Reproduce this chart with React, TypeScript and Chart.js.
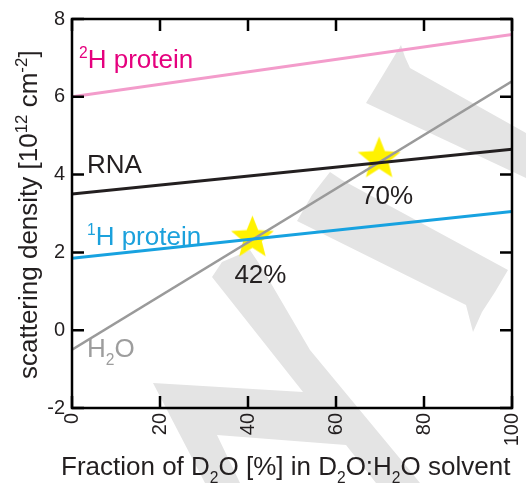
import React, { useEffect, useRef } from "react";
import { Chart, registerables } from "chart.js";

Chart.register(...registerables);

// ---- data ----
const xTicks = [0, 20, 40, 60, 80, 100];
const yTicks = [-2, 0, 2, 4, 6, 8];
const d2oFraction = [0, 100];
const deuteratedProtein = [6.0, 7.6];
const rnaDensity = [3.5, 4.65];
const protonatedProtein = [1.85, 3.05];
const waterDensity = [-0.5, 6.4];
const matchX = [41.0, 69.8];
const matchY = [2.37, 4.4];
const matchLabels = ["42%", "70%"];

type Seg = { t: string; mode?: "sup" | "sub" };
const lineLabels: { segs: Seg[]; x: number; y: number; color: string }[] = [
  { segs: [{ t: "2", mode: "sup" }, { t: "H protein" }], x: 1.6, y: 6.74, color: "#e5007e" },
  { segs: [{ t: "RNA" }], x: 3.4, y: 4.04, color: "#231f20" },
  { segs: [{ t: "1", mode: "sup" }, { t: "H protein" }], x: 3.4, y: 2.19, color: "#1ba1dc" },
  { segs: [{ t: "H" }, { t: "2", mode: "sub" }, { t: "O" }], x: 3.4, y: -0.69, color: "#9d9d9d" },
];
const xTitle: Seg[] = [
  { t: "Fraction of D" }, { t: "2", mode: "sub" }, { t: "O [%] in D" }, { t: "2", mode: "sub" },
  { t: "O:H" }, { t: "2", mode: "sub" }, { t: "O solvent" },
];
const yTitle: Seg[] = [
  { t: "scattering density [10" }, { t: "12", mode: "sup" }, { t: " cm" }, { t: "-2", mode: "sup" }, { t: "]" },
];

// decorative background watermark (canvas pixel outlines)
const watermark: number[][][] = [
  [[212, 277], [222, 262], [250, 250], [262, 268], [310, 350], [407, 467], [420, 483], [376, 483], [346, 445],
   [217, 435], [240, 483], [205, 483], [153, 383], [303, 392]],
  [[330, 172], [342, 180], [508, 270], [495, 292], [482, 312], [473, 332], [466, 305], [297, 221], [312, 195]],
  [[401, 45], [405, 57], [410, 68], [526, 133], [526, 178], [366, 103], [383, 75]],
];

const FONT = "'Liberation Sans', Arial, Helvetica, sans-serif";
const INK = "#231f20";

function drawRich(ctx: CanvasRenderingContext2D, segs: Seg[], x: number, y: number, size: number, supScale = 0.6) {
  let cx = x;
  for (const s of segs) {
    const sz = s.mode ? size * supScale : size;
    ctx.font = `${sz}px ${FONT}`;
    const dy = s.mode === "sup" ? -size * 0.37 : s.mode === "sub" ? size * 0.3 : 0;
    ctx.fillText(s.t, cx, y + dy);
    cx += ctx.measureText(s.t).width;
  }
}

function makeStar(R: number, r: number, color: string) {
  const c = document.createElement("canvas");
  const size = Math.ceil(R * 2 + 2);
  c.width = size;
  c.height = size;
  const g = c.getContext("2d")!;
  g.translate(size / 2, size / 2);
  g.beginPath();
  for (let i = 0; i < 10; i++) {
    const rad = i % 2 === 0 ? R : r;
    const a = -Math.PI / 2 + (i * Math.PI) / 5;
    g.lineTo(rad * Math.cos(a), rad * Math.sin(a));
  }
  g.closePath();
  g.fillStyle = color;
  g.fill();
  return c;
}

export default function App() {
  const ref = useRef<HTMLCanvasElement>(null);
  useEffect(() => {
    if (!ref.current) return;
    const star = makeStar(22.5, 9.8, "#fff200");
    const pts = (ys: number[]) => d2oFraction.map((x, i) => ({ x, y: ys[i] }));

    const decor = {
      id: "decor",
      beforeDraw(chart: any) {
        const ctx = chart.ctx;
        ctx.save();
        ctx.fillStyle = "#e4e4e4";
        for (const poly of watermark) {
          ctx.beginPath();
          poly.forEach(([px, py], i) => (i ? ctx.lineTo(px, py) : ctx.moveTo(px, py)));
          ctx.closePath();
          ctx.fill();
        }
        ctx.restore();
      },
      afterDraw(chart: any) {
        const ctx = chart.ctx;
        const { left, right, top, bottom } = chart.chartArea;
        const xs = chart.scales.x;
        const ys = chart.scales.y;
        ctx.save();
        // box + inward ticks
        ctx.strokeStyle = "#000";
        ctx.lineWidth = 2.5;
        ctx.strokeRect(left, top, right - left, bottom - top);
        ctx.beginPath();
        const tl = 12;
        for (const v of xTicks) {
          const p = xs.getPixelForValue(v);
          ctx.moveTo(p, bottom); ctx.lineTo(p, bottom - tl);
          ctx.moveTo(p, top); ctx.lineTo(p, top + tl);
        }
        for (const v of yTicks) {
          const p = ys.getPixelForValue(v);
          ctx.moveTo(left, p); ctx.lineTo(left + tl, p);
          ctx.moveTo(right, p); ctx.lineTo(right - tl, p);
        }
        ctx.stroke();

        ctx.textAlign = "left";
        ctx.textBaseline = "alphabetic";
        // line labels
        for (const l of lineLabels) {
          ctx.fillStyle = l.color;
          drawRich(ctx, l.segs, xs.getPixelForValue(l.x), ys.getPixelForValue(l.y), 26);
        }
        // match point labels
        ctx.fillStyle = INK;
        matchLabels.forEach((t, i) => {
          drawRich(ctx, [{ t }], xs.getPixelForValue(matchX[i]) - 18, ys.getPixelForValue(matchY[i]) + 45, 26);
        });
        // axis titles
        ctx.fillStyle = INK;
        drawRich(ctx, xTitle, left - 11, bottom + 67, 26);
        ctx.translate(37, bottom - 29);
        ctx.rotate(-Math.PI / 2);
        drawRich(ctx, yTitle, 0, 0, 26, 0.65);
        ctx.restore();
      },
    };

    const chart = new Chart(ref.current, {
      type: "line",
      data: {
        datasets: [
          { data: pts(deuteratedProtein), borderColor: "#f39ccb", borderWidth: 3, pointRadius: 0 },
          { data: pts(rnaDensity), borderColor: "#231f20", borderWidth: 3, pointRadius: 0 },
          { data: pts(protonatedProtein), borderColor: "#17a2e0", borderWidth: 3, pointRadius: 0 },
          { data: pts(waterDensity), borderColor: "#9a9a9a", borderWidth: 2.6, pointRadius: 0 },
          {
            data: matchX.map((x, i) => ({ x, y: matchY[i] })),
            showLine: false,
            pointStyle: star as any,
            pointRadius: 22,
          },
        ],
      },
      options: {
        animation: false,
        responsive: false,
        events: [],
        layout: { autoPadding: false, padding: { left: 0, right: 14, top: 19, bottom: 0 } },
        plugins: { legend: { display: false }, tooltip: { enabled: false }, title: { display: false } },
        scales: {
          x: {
            type: "linear",
            min: 0,
            max: 100,
            afterFit: (s: any) => { s.height = 75; s.paddingLeft = 0; s.paddingRight = 0; },
            afterBuildTicks: (s: any) => { s.ticks = xTicks.map((v) => ({ value: v })); },
            grid: { display: false, drawTicks: false },
            border: { display: false },
            ticks: { minRotation: 90, maxRotation: 90, padding: 5, color: INK, font: { family: FONT, size: 20 } },
          },
          y: {
            type: "linear",
            min: -2,
            max: 8,
            afterFit: (s: any) => { s.width = 72; s.paddingTop = 0; s.paddingBottom = 0; },
            afterBuildTicks: (s: any) => { s.ticks = yTicks.map((v) => ({ value: v })); },
            grid: { display: false, drawTicks: false },
            border: { display: false },
            ticks: { padding: 7, color: INK, font: { family: FONT, size: 20 } },
          },
        },
      },
      plugins: [decor],
    });
    return () => chart.destroy();
  }, []);

  return (
    <div style={{ position: "absolute", left: 0, top: 0, width: 526, height: 483, background: "#fff" }}>
      <canvas ref={ref} width={526} height={483} />
    </div>
  );
}
